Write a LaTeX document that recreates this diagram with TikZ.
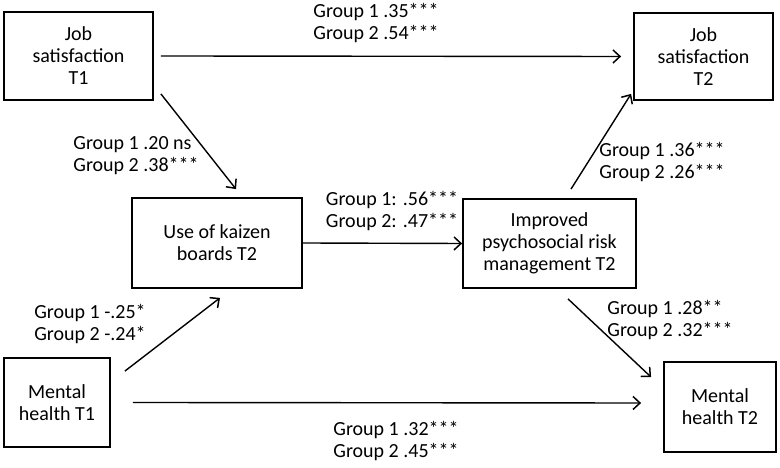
\documentclass[tikz,border=0pt]{standalone}
\usepackage{fontspec}
\setmainfont{Carlito}
\usetikzlibrary{arrows.meta}
\tikzset{
	var/.style={draw, line width=1.8pt, align=center, inner sep=2pt},
	path/.style={line width=1.4pt, -{Straight Barb[length=7pt,width=13pt,line width=1.5pt]}},
	coef/.style={align=left, inner sep=0pt}
}
\begin{document}
\begin{tikzpicture}[x=1pt, y=1pt, font=\fontsize{20}{22}\selectfont]
				\useasboundingbox (0, 0) rectangle (780, 468);
				\node[var, minimum width=149pt, minimum height=88pt] (js1) at (78.5, 412) {Job\\satisfaction\\T1};
				\node[var, minimum width=139pt, minimum height=87pt] (js2) at (703.5, 411.5) {Job\\satisfaction\\T2};
				\node[var, minimum width=170pt, minimum height=90pt] (kz) at (217, 225) {Use of kaizen\\boards T2};
				\node[var, minimum width=173pt, minimum height=89pt] (irm) at (549.5, 224.5) {Improved\\psychosocial risk\\management T2};
				\node[var, minimum width=106pt, minimum height=89pt] (mh1) at (57, 65.5) {Mental\\health T1};
				\node[var, minimum width=112pt, minimum height=90pt] (mh2) at (720, 61) {Mental\\health T2};

				\draw[path] ([xshift=7pt]js1.east) -- ([xshift=-12pt]js2.west);
				\draw[path] ([shift={(7pt,7pt)}]js1.south east) -- ([shift={(19pt,8pt)}]kz.north);
				\draw[path] (kz.east) -- (irm.west);
				\draw[path] ([shift={(14pt,-14pt)}]mh1.north east) -- ([shift={(3pt,-9pt)}]kz.south);
				\draw[path] ([shift={(21.5pt,9pt)}]irm.north) -- ([shift={(-2pt,7pt)}]js2.south west);
				\draw[path] ([shift={(18.5pt,-10pt)}]irm.south) -- ([shift={(-12pt,-16pt)}]mh2.north west);
				\draw[path] ([xshift=22pt]mh1.east) -- ([shift={(-22pt,4pt)}]mh2.west);

				\node[coef] (c1) at (376, 445) {Group 1 .35***\\Group 2 .54***};
				\node[coef] (c2) at (136, 312) {Group 1 .20 ns\\Group 2 .38***};
				\node[coef] (c3) at (90, 144) {Group 1 -.25*\\Group 2 -.24*};
				\node[coef] (c4) at (392, 257) {Group 1: .56***\\Group 2: .47***};
				\node[coef] (c5) at (662, 305.5) {Group 1 .36***\\Group 2 .26***};
				\node[coef] (c6) at (670, 148) {Group 1 .28**\\Group 2 .32***};
				\node[coef] (c7) at (396, 27) {Group 1 .32***\\Group 2 .45***};
			\end{tikzpicture}
\end{document}
